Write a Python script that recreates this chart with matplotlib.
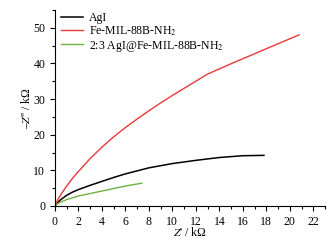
import matplotlib
matplotlib.use("Agg")
import matplotlib.pyplot as plt
from matplotlib.ticker import MultipleLocator

plt.rcParams['font.family'] = ['Liberation Serif', 'DejaVu Serif']
plt.rcParams['mathtext.fontset'] = 'stix'

agi_x = [0, 0.25, 0.5, 1, 1.5, 2, 3, 4, 5, 6, 8, 10, 12, 14, 16, 17.8]
agi_y = [0, 1.0, 1.8, 3.0, 3.9, 4.6, 5.8, 6.9, 8.0, 9.0, 10.7, 11.9, 12.8, 13.6, 14.1, 14.2]

fe_x = [0, 0.25, 0.5, 1, 1.5, 2, 3, 4, 5, 6, 7, 8, 9, 10, 11, 12, 13, 15, 17, 19, 20.8]
fe_y = [0, 1.8, 3.2, 5.6, 7.8, 9.7, 13.3, 16.5, 19.4, 22.0, 24.4, 26.7, 28.9, 31.0,
        33.0, 35.0, 37.0, 39.9, 42.7, 45.5, 48.0]

mix_x = [0, 0.25, 0.5, 1, 2, 3, 4, 5, 6, 7.4]
mix_y = [0, 0.7, 1.1, 1.8, 2.8, 3.5, 4.2, 4.9, 5.6, 6.4]

fig = plt.figure(figsize=(3.33, 2.47), dpi=100)
ax = fig.add_axes([0.165, 0.166, 0.811, 0.794])

ax.plot(agi_x, agi_y, color='black', lw=1.1, label='AgI')
ax.plot(fe_x, fe_y, color='#e8393a', lw=1.0, label='Fe-MIL-88B-NH$_2$')
ax.plot(mix_x, mix_y, color='#6cb33f', lw=1.0, label='2:3 AgI@Fe-MIL-88B-NH$_2$')

ax.set_xlim(0, 23)
ax.set_ylim(0, 55)
ax.xaxis.set_major_locator(MultipleLocator(2))
ax.xaxis.set_minor_locator(MultipleLocator(1))
ax.yaxis.set_major_locator(MultipleLocator(10))
ax.yaxis.set_minor_locator(MultipleLocator(5))
ax.tick_params(which='both', direction='out', labelsize=8.5, width=0.8)
ax.tick_params(which='major', length=3.5)
ax.tick_params(which='minor', length=2)
for s in ['top', 'right']:
    ax.spines[s].set_visible(False)

ax.set_xlabel("$Z$' / k\u03a9", fontsize=8.5, labelpad=-1)
ax.set_ylabel("\u2013$Z$'' / k\u03a9", fontsize=8.5, labelpad=0)

ax.legend(loc='upper left', frameon=False, fontsize=8.5, handlelength=1.9,
          handletextpad=0.5, borderaxespad=0.1, labelspacing=0.05,
          bbox_to_anchor=(0.0, 1.02))

fig.savefig('out.png', dpi=100)
